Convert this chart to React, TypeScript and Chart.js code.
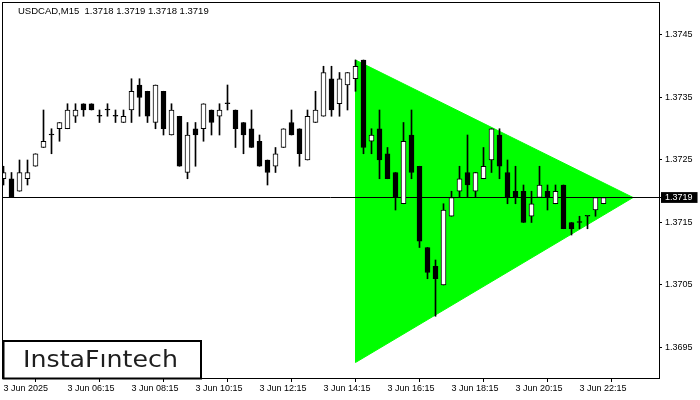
import React, { useEffect, useRef } from "react";
import { Chart, registerables } from "chart.js";

Chart.register(...registerables);

const symbolTitle = "USDCAD,M15  1.3718 1.3719 1.3718 1.3719";
const logoText = "InstaFıntech";

const timeLabels = [
  "3 Jun 2025", "3 Jun 06:15", "3 Jun 08:15", "3 Jun 10:15", "3 Jun 12:15",
  "3 Jun 14:15", "3 Jun 16:15", "3 Jun 18:15", "3 Jun 20:15", "3 Jun 22:15",
];
const timeLabelIndexes = [0, 8, 16, 24, 32, 40, 48, 56, 64, 72];

const opens = [
  1.3722, 1.3722, 1.3720, 1.3722, 1.3724, 1.3727, 1.3729, 1.3730, 1.3730, 1.3732,
  1.3734, 1.3734, 1.3732, 1.3733, 1.3732, 1.3731, 1.3733, 1.3737, 1.3736, 1.3731,
  1.3736, 1.3729, 1.3732, 1.3723, 1.3730, 1.3730, 1.3733, 1.3732, 1.3734, 1.3733,
  1.3731, 1.3730, 1.3728, 1.3725, 1.3724, 1.3727, 1.3731, 1.3730, 1.3725, 1.3731,
  1.3732, 1.3738, 1.3734, 1.3737, 1.3738, 1.3741, 1.3728, 1.3730, 1.3726, 1.3723,
  1.3718, 1.3729, 1.3724, 1.3711, 1.3708, 1.3705, 1.3716, 1.3720, 1.3723, 1.3720,
  1.3722, 1.3725, 1.3729, 1.3723, 1.3720, 1.3720, 1.3716, 1.3719, 1.3720, 1.3718,
  1.3721, 1.3715, 1.3715, 1.3716, 1.3717, 1.3718,
];
const highs = [
  1.3724, 1.3723, 1.3725, 1.3725, 1.3726, 1.3733, 1.3730, 1.3731, 1.3734, 1.3734,
  1.3734, 1.3734, 1.3733, 1.3734, 1.3733, 1.3733, 1.3738, 1.3738, 1.3736, 1.3737,
  1.3736, 1.3734, 1.3732, 1.3731, 1.3731, 1.3734, 1.3733, 1.3734, 1.3737, 1.3733,
  1.3731, 1.3733, 1.3729, 1.3725, 1.3727, 1.3730, 1.3733, 1.3730, 1.3733, 1.3736,
  1.3740, 1.3740, 1.3739, 1.3739, 1.3741, 1.3741, 1.3730, 1.3733, 1.3727, 1.3723,
  1.3731, 1.3733, 1.3724, 1.3711, 1.3709, 1.3718, 1.3720, 1.3724, 1.3729, 1.3723,
  1.3727, 1.3730, 1.3730, 1.3725, 1.3724, 1.3721, 1.3720, 1.3724, 1.3721, 1.3721,
  1.3721, 1.3715, 1.3716, 1.3716, 1.3719, 1.3719,
];
const lows = [
  1.3721, 1.3719, 1.3720, 1.3721, 1.3724, 1.3727, 1.3726, 1.3728, 1.3730, 1.3731,
  1.3732, 1.3733, 1.3731, 1.3732, 1.3731, 1.3731, 1.3731, 1.3732, 1.3731, 1.3730,
  1.3729, 1.3729, 1.3724, 1.3722, 1.3724, 1.3728, 1.3729, 1.3729, 1.3733, 1.3727,
  1.3726, 1.3727, 1.3724, 1.3721, 1.3723, 1.3727, 1.3729, 1.3724, 1.3725, 1.3731,
  1.3732, 1.3732, 1.3732, 1.3733, 1.3736, 1.3726, 1.3726, 1.3722, 1.3722, 1.3717,
  1.3718, 1.3722, 1.3711, 1.3706, 1.3700, 1.3705, 1.3716, 1.3719, 1.3719, 1.3719,
  1.3722, 1.3723, 1.3722, 1.3718, 1.3718, 1.3715, 1.3715, 1.3719, 1.3717, 1.3718,
  1.3714, 1.3713, 1.3714, 1.3714, 1.3716, 1.3718,
];
const closes = [
  1.3723, 1.3719, 1.3723, 1.3723, 1.3726, 1.3728, 1.3729, 1.3731, 1.3733, 1.3733,
  1.3733, 1.3733, 1.3732, 1.3733, 1.3732, 1.3732, 1.3736, 1.3735, 1.3732, 1.3737,
  1.3730, 1.3733, 1.3724, 1.3729, 1.3729, 1.3734, 1.3731, 1.3733, 1.3734, 1.3730,
  1.3729, 1.3727, 1.3724, 1.3723, 1.3726, 1.3730, 1.3729, 1.3726, 1.3732, 1.3733,
  1.3739, 1.3733, 1.3738, 1.3739, 1.3740, 1.3727, 1.3729, 1.3725, 1.3722, 1.3719,
  1.3728, 1.3723, 1.3712, 1.3707, 1.3706, 1.3717, 1.3719, 1.3722, 1.3721, 1.3723,
  1.3724, 1.3730, 1.3724, 1.3719, 1.3719, 1.3715, 1.3718, 1.3721, 1.3719, 1.3720,
  1.3714, 1.3714, 1.3715, 1.3716, 1.3719, 1.3719,
];

const priceTicks = [1.3695, 1.3705, 1.3715, 1.3719, 1.3725, 1.3735, 1.3745];
const currentPrice = 1.3719;

// Symmetrical triangle pattern (bar index, price)
const triangleX = [44, 78.7, 44, 44];
const triangleY = [1.3741, 1.3719, 1.36926, 1.3741];

const xMin = -0.1875;
const xMax = 81.9375;
const yMin = 1.369012;
const yMax = 1.375028;

const isCurrent = (v: number) => Math.abs(v - currentPrice) < 1e-7;

const overlayPlugin = {
  id: "overlay",
  afterDraw(chart: any) {
    const { ctx, chartArea: a } = chart;
    ctx.save();
    ctx.strokeStyle = "#000";
    ctx.lineWidth = 1;
    ctx.strokeRect(a.left + 0.5, a.top + 0.5, a.right - a.left, a.bottom - a.top);

    ctx.fillStyle = "#000";
    ctx.font = '9.5px "Liberation Sans"';
    ctx.textAlign = "left";
    ctx.textBaseline = "alphabetic";
    ctx.fillText(symbolTitle, 18, 14);

    // logo
    ctx.fillStyle = "#fff";
    ctx.fillRect(3, 341, 198, 37);
    ctx.lineWidth = 2;
    ctx.strokeStyle = "#000";
    ctx.strokeRect(3.5, 341, 197.5, 37.5);
    ctx.fillStyle = "#1e1e1e";
    ctx.font = '500 23px "DejaVu Sans"';
    const w = ctx.measureText(logoText).width;
    ctx.translate(100.5, 367);
    ctx.scale(155 / w, 1);
    ctx.textAlign = "center";
    ctx.fillText(logoText, 0, 0);
    ctx.restore();
  },
};

export default function App() {
  const ref = useRef<HTMLCanvasElement>(null);

  useEffect(() => {
    if (!ref.current) return;
    Chart.defaults.font.family = '"Liberation Sans"';
    const bodyData = opens.map((o, i) => ({
      x: i,
      y: [Math.min(o, closes[i]), Math.max(o, closes[i])],
    }));
    const wickData = lows.map((l, i) => ({ x: i, y: [l, highs[i]] }));
    const bodyColors = opens.map((o, i) => (closes[i] > o ? "#ffffff" : "#000000"));

    const chart = new Chart(ref.current, {
      type: "bar",
      data: {
        datasets: [
          {
            type: "bar",
            label: "bodies",
            data: bodyData as any,
            backgroundColor: bodyColors,
            borderColor: "#000",
            borderWidth: 1,
            borderSkipped: false,
            barThickness: 5,
            minBarLength: 1,
            grouped: false,
            order: 1,
          } as any,
          {
            type: "bar",
            label: "wicks",
            data: wickData as any,
            backgroundColor: "#000",
            borderWidth: 0,
            barThickness: 1,
            grouped: false,
            order: 2,
          } as any,
          {
            type: "line",
            label: "last",
            data: [
              { x: xMin, y: currentPrice },
              { x: xMax, y: currentPrice },
            ],
            borderColor: "#000",
            borderWidth: 1,
            pointRadius: 0,
            fill: false,
            order: 3,
          } as any,
          {
            type: "line",
            label: "triangle",
            data: triangleX.map((x, i) => ({ x, y: triangleY[i] })),
            borderColor: "#00ff00",
            backgroundColor: "#00ff00",
            borderWidth: 1,
            pointRadius: 0,
            fill: "shape",
            tension: 0,
            order: 4,
          } as any,
        ],
      },
      options: {
        animation: false,
        responsive: false,
        devicePixelRatio: 1,
        layout: { padding: { left: 2, top: 2, right: 0, bottom: 0 } },
        plugins: {
          legend: { display: false },
          tooltip: { enabled: false },
          title: { display: false },
        },
        scales: {
          x: {
            type: "linear",
            min: xMin,
            max: xMax,
            offset: false,
            grid: {
              display: true,
              drawOnChartArea: false,
              drawTicks: true,
              tickLength: 4,
              color: "#000",
            },
            border: { display: true, color: "#000" },
            ticks: {
              autoSkip: false,
              maxRotation: 0,
              minRotation: 0,
              align: "start",
              padding: 1,
              color: "#000",
              font: { family: '"Liberation Sans"', size: 9 },
              callback: (v: any) => {
                const idx = timeLabelIndexes.indexOf(Number(v));
                return idx >= 0 ? timeLabels[idx] : "";
              },
            },
            afterBuildTicks: (s: any) => {
              s.ticks = timeLabelIndexes.map((v) => ({ value: v }));
            },
            afterFit: (s: any) => {
              s.height = 22;
              s.paddingLeft = 0;
              s.paddingRight = 0;
            },
          },
          y: {
            type: "linear",
            position: "right",
            min: yMin,
            max: yMax,
            grid: {
              display: true,
              drawOnChartArea: false,
              drawTicks: true,
              tickLength: 3,
              color: "#000",
            },
            border: { display: true, color: "#000" },
            ticks: {
              padding: 3,
              font: { family: '"Liberation Sans"', size: 9 },
              color: (c: any) => (isCurrent(c.tick.value) ? "#fff" : "#000"),
              showLabelBackdrop: true,
              backdropColor: (c: any) => (isCurrent(c.tick.value) ? "#000" : "rgba(0,0,0,0)"),
              backdropPadding: { left: 4, right: 5, top: 0, bottom: 0 },
              callback: (v: any) => Number(v).toFixed(4),
            },
            afterBuildTicks: (s: any) => {
              s.ticks = priceTicks.map((v) => ({ value: v }));
            },
            afterFit: (s: any) => {
              s.width = 41;
              s.paddingTop = 0;
              s.paddingBottom = 0;
            },
          },
        },
      } as any,
      plugins: [overlayPlugin],
    });
    return () => chart.destroy();
  }, []);

  return (
    <div style={{ position: "fixed", left: 0, top: 0, width: 700, height: 400, background: "#fff" }}>
      <canvas ref={ref} width={700} height={400} style={{ width: 700, height: 400, display: "block" }} />
    </div>
  );
}
